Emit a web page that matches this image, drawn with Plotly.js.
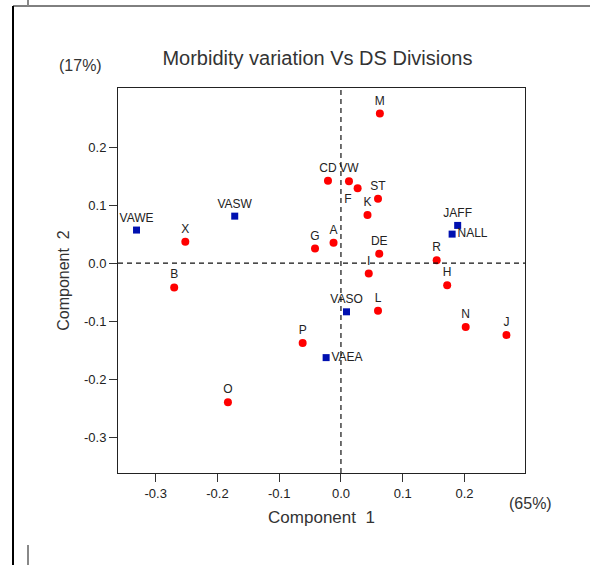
<!DOCTYPE html>
<html>
<head>
<meta charset="utf-8">
<script src="https://cdn.plot.ly/plotly-3.0.1.min.js"></script>
<style>
html,body{margin:0;padding:0;background:#fff;}
#chart{width:590px;height:565px;}
</style>
</head>
<body>
<div id="chart"></div>
<script>
// Red circles: morbidity variables
const redNames = ["M","CD","VW","F","ST","K","G","A","X","DE","R","I","H","B","L","N","J","P","O"];
const redX = [0.063,-0.021,0.013,0.027,0.060,0.043,-0.042,-0.012,-0.252,0.062,0.155,0.045,0.172,-0.270,0.060,0.202,0.268,-0.062,-0.183];
const redY = [0.258,0.142,0.141,0.129,0.111,0.083,0.025,0.035,0.037,0.016,0.005,-0.018,-0.038,-0.042,-0.082,-0.110,-0.124,-0.138,-0.240];

// Blue squares: DS divisions
const blueNames = ["VAWE","VASW","JAFF","NALL","VASO","VAEA"];
const blueX = [-0.331,-0.172,0.189,0.180,0.009,-0.024];
const blueY = [0.057,0.081,0.065,0.050,-0.084,-0.163];

const xTicks = [-0.3,-0.2,-0.1,0.0,0.1,0.2];
const yTicks = [0.2,0.1,0.0,-0.1,-0.2,-0.3];

const labelPos = {F:"bottom left", NALL:"middle right", VAEA:"middle right"};
const posFor = n => labelPos[n] || "top center";

const FONT = "Liberation Sans, Arial, sans-serif";

const traces = [
  {
    type:"scatter", mode:"markers+text",
    x:redX, y:redY, text:redNames,
    textposition:redNames.map(posFor),
    textfont:{family:FONT, size:12, color:"#222"},
    marker:{symbol:"circle", size:8, color:"#ff0000"},
    cliponaxis:false, hoverinfo:"text"
  },
  {
    type:"scatter", mode:"markers+text",
    x:blueX, y:blueY, text:blueNames,
    textposition:blueNames.map(posFor),
    textfont:{family:FONT, size:12, color:"#222"},
    marker:{symbol:"square", size:7, color:"#0010b0"},
    cliponaxis:false, hoverinfo:"text"
  }
];

const layout = {
  width:590, height:565,
  margin:{l:118, r:65, t:88, b:92},
  paper_bgcolor:"#fff", plot_bgcolor:"#fff",
  showlegend:false,
  font:{family:FONT, color:"#222", size:13},
  title:{text:"Morbidity variation Vs DS Divisions", font:{family:FONT, size:20, color:"#333"},
         xref:"paper", x:0.49, xanchor:"center", yref:"container", y:0.898, yanchor:"middle"},
  xaxis:{
    range:[-0.361,0.298], tickvals:xTicks, ticktext:xTicks.map(v=>v.toFixed(1)),
    ticks:"outside", ticklen:8, tickcolor:"#333", tickwidth:1,
    showline:true, linecolor:"#222", linewidth:1, mirror:true,
    showgrid:false, zeroline:false,
    tickfont:{family:FONT, size:13, color:"#222"},
    title:{text:"Component&nbsp;&nbsp;1", font:{family:FONT, size:17, color:"#333"}, standoff:11}
  },
  yaxis:{
    range:[-0.362,0.302], tickvals:yTicks, ticktext:yTicks.map(v=>v.toFixed(1)),
    ticks:"outside", ticklen:8, tickcolor:"#333", tickwidth:1,
    showline:true, linecolor:"#222", linewidth:1, mirror:true,
    showgrid:false, zeroline:false,
    tickfont:{family:FONT, size:13, color:"#222"},
    title:{text:"Component&nbsp;&nbsp;2", font:{family:FONT, size:16, color:"#333"}, standoff:10}
  },
  shapes:[
    {type:"line", xref:"x", yref:"paper", x0:0, x1:0, y0:0, y1:1, line:{color:"#111", width:1.2, dash:"5px,4px"}},
    {type:"line", xref:"paper", yref:"y", x0:0, x1:1, y0:0, y1:0, line:{color:"#111", width:1.2, dash:"5px,4px"}},
    // outer page frame
    {type:"line", xref:"paper", yref:"paper", x0:(13-118)/407, x1:(590-118)/407, y0:(473-6)/385, y1:(473-6)/385, line:{color:"#000", width:1}},
    {type:"line", xref:"paper", yref:"paper", x0:(13-118)/407, x1:(13-118)/407, y0:(473-6)/385, y1:(473-566)/385, line:{color:"#000", width:2}},
    {type:"line", xref:"paper", yref:"paper", x0:(28-118)/407, x1:(28-118)/407, y0:(473+1)/385, y1:(473-6)/385, line:{color:"#888", width:2}},
    {type:"line", xref:"paper", yref:"paper", x0:(28-118)/407, x1:(28-118)/407, y0:(473-545)/385, y1:(473-566)/385, line:{color:"#888", width:2}}
  ],
  annotations:[
    {text:"(17%)", xref:"paper", yref:"paper", x:(80-118)/407, y:(473-65)/385, xanchor:"center", yanchor:"middle", showarrow:false, font:{family:FONT, size:16, color:"#333"}},
    {text:"(65%)", xref:"paper", yref:"paper", x:(530-118)/407, y:(473-503)/385, xanchor:"center", yanchor:"middle", showarrow:false, font:{family:FONT, size:16, color:"#333"}}
  ]
};

Plotly.newPlot("chart", traces, layout, {displayModeBar:false, staticPlot:true});
</script>
</body>
</html>
